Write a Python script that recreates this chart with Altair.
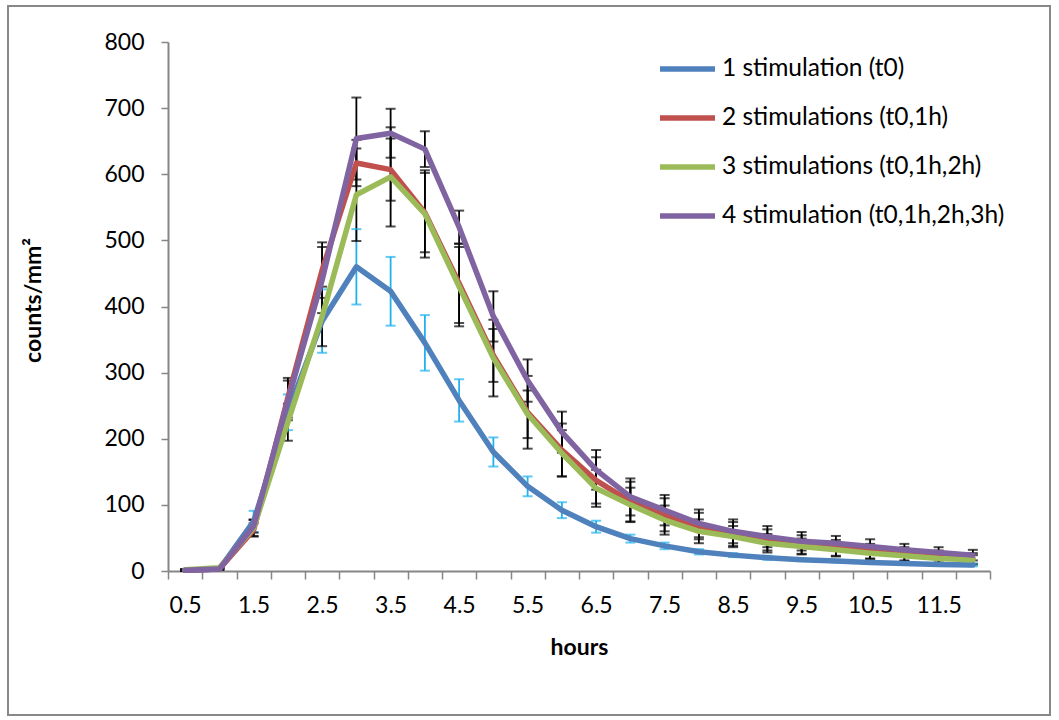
import json
import altair as alt
import pandas as pd

hours = ["0.5", "1", "1.5", "2", "2.5", "3", "3.5", "4", "4.5", "5", "5.5", "6",
         "6.5", "7", "7.5", "8", "8.5", "9", "9.5", "10", "10.5", "11", "11.5", "12"]
shown_labels = ["0.5", "1.5", "2.5", "3.5", "4.5", "5.5", "6.5", "7.5", "8.5", "9.5", "10.5", "11.5"]

series_names = ["1 stimulation (t0)", "2 stimulations (t0,1h)",
                "3 stimulations (t0,1h,2h)", "4 stimulation (t0,1h,2h,3h)"]

s1 = [1, 3, 75, 240, 378, 460, 423, 345, 258, 180, 128, 92, 67, 49, 38, 29, 24, 20, 17, 15, 13, 11.5, 10, 9]
s1_err = [1, 1, 16, 27, 48, 57, 52, 42, 32, 22, 15, 12, 9, 6, 5, 4, 3, 3, 2, 2, 2, 2, 2, 2]

s2 = [1, 3, 62, 262, 455, 617, 607, 542, 435, 326, 240, 183, 137, 105, 85, 68, 56, 47, 40, 35, 30, 26, 22, 19]
s2_err = [1, 1, 10, 30, 42, 35, 47, 60, 60, 40, 55, 40, 35, 30, 25, 20, 18, 16, 14, 12, 11, 10, 9, 8]

s3 = [2, 5, 65, 225, 385, 569, 596, 540, 430, 322, 237, 178, 125, 100, 77, 60, 52, 42, 37, 32, 27, 23, 19, 17]
s3_err = [1, 1, 12, 28, 45, 70, 75, 66, 60, 58, 36, 35, 28, 26, 22, 18, 16, 14, 12, 10, 9, 8, 7, 7]

s4 = [1, 3, 68, 258, 440, 654, 662, 638, 520, 385, 288, 210, 153, 112, 92, 72, 60, 52, 45, 42, 37, 32, 28, 24]
s4_err = [1, 1, 10, 30, 50, 62, 37, 27, 25, 38, 32, 31, 30, 28, 23, 21, 18, 16, 14, 11, 11, 9, 8, 8]

line_colors = ["#4F81BD", "#C0504D", "#9BBB59", "#8064A2"]
err_colors = ["#1FB2EE", "#000000", "#000000", "#000000"]

rows = []
for name, vals, errs, ec in zip(series_names, [s1, s2, s3, s4], [s1_err, s2_err, s3_err, s4_err], err_colors):
    for h, v, e in zip(hours, vals, errs):
        rows.append({"hour": h, "series": name, "value": v, "lo": v - e, "hi": v + e, "errcolor": ec})
df = pd.DataFrame(rows)

FONT = "Lato"
AXIS_GRAY = "#868686"

label_expr = "indexof(" + json.dumps(shown_labels) + ", datum.label) >= 0 ? datum.label : ''"

x_enc = alt.X(
    "hour:O",
    sort=hours,
    scale=alt.Scale(domain=hours, paddingInner=0, paddingOuter=0),
    axis=alt.Axis(
        title="hours", labelAngle=0, labelExpr=label_expr, tickBand="extent",
        domainColor=AXIS_GRAY, domainWidth=2, tickColor=AXIS_GRAY, tickWidth=1.5, tickSize=8,
        labelFont=FONT, labelFontSize=23, labelColor="black", labelPadding=15,
        titleFont=FONT, titleFontSize=23, titleFontWeight="bold", titleColor="black",
        titleX=411, titleY=76, titleBaseline="middle", titleAlign="center",
    ),
)

y_scale = alt.Scale(domain=[0, 800], nice=False, zero=True)
y_axis = alt.Axis(
    title="counts/mm²", values=[0, 100, 200, 300, 400, 500, 600, 700, 800], grid=False,
    domainColor=AXIS_GRAY, domainWidth=2, tickColor=AXIS_GRAY, tickWidth=1.5, tickSize=7,
    labelFont=FONT, labelFontSize=23, labelColor="black", labelPadding=17,
    titleFont=FONT, titleFontSize=23, titleFontWeight="bold", titleColor="black",
    titleAngle=270, titleX=-135, titleY=258, titleAlign="center", titleBaseline="middle",
)

base = alt.Chart(df)

err_rule = base.mark_rule(strokeWidth=1.8).encode(
    x=x_enc,
    y=alt.Y("lo:Q", scale=y_scale, axis=y_axis),
    y2="hi:Q",
    stroke=alt.Stroke("errcolor:N", scale=None),
)
cap_lo = base.mark_tick(size=10, thickness=2).encode(
    x=x_enc,
    y=alt.Y("lo:Q", scale=y_scale, axis=y_axis),
    fill=alt.Fill("errcolor:N", scale=None),
)
cap_hi = base.mark_tick(size=10, thickness=2).encode(
    x=x_enc,
    y=alt.Y("hi:Q", scale=y_scale, axis=y_axis),
    fill=alt.Fill("errcolor:N", scale=None),
)

lines = base.mark_line(strokeWidth=5.5, strokeCap="round", strokeJoin="round").encode(
    x=x_enc,
    y=alt.Y("value:Q", scale=y_scale, axis=y_axis),
    color=alt.Color(
        "series:N",
        scale=alt.Scale(domain=series_names, range=line_colors),
        legend=alt.Legend(
            title=None, orient="none", legendX=489, legendY=-3.5,
            symbolType="stroke", symbolStrokeWidth=5.5, symbolSize=3025,
            labelFont=FONT, labelFontSize=24.5, labelColor="black", labelOffset=4,
            labelLimit=0, rowPadding=7, padding=0,
        ),
    ),
)

border = alt.Chart(pd.DataFrame({"k": [0]})).mark_rect(
    fill=None, stroke="#888888", strokeWidth=2
).encode(
    x=alt.value(-160), x2=alt.value(882), y=alt.value(-36), y2=alt.value(673)
)

chart = alt.layer(border, err_rule, cap_lo, cap_hi, lines).properties(
    width=822, height=529,
    autosize=alt.AutoSizeParams(type="none"),
    padding={"left": 168, "top": 42, "right": 69, "bottom": 149},
    background="white",
).configure_view(stroke=None)

chart.save("out.html", embed_options={"renderer": "svg", "actions": False})
